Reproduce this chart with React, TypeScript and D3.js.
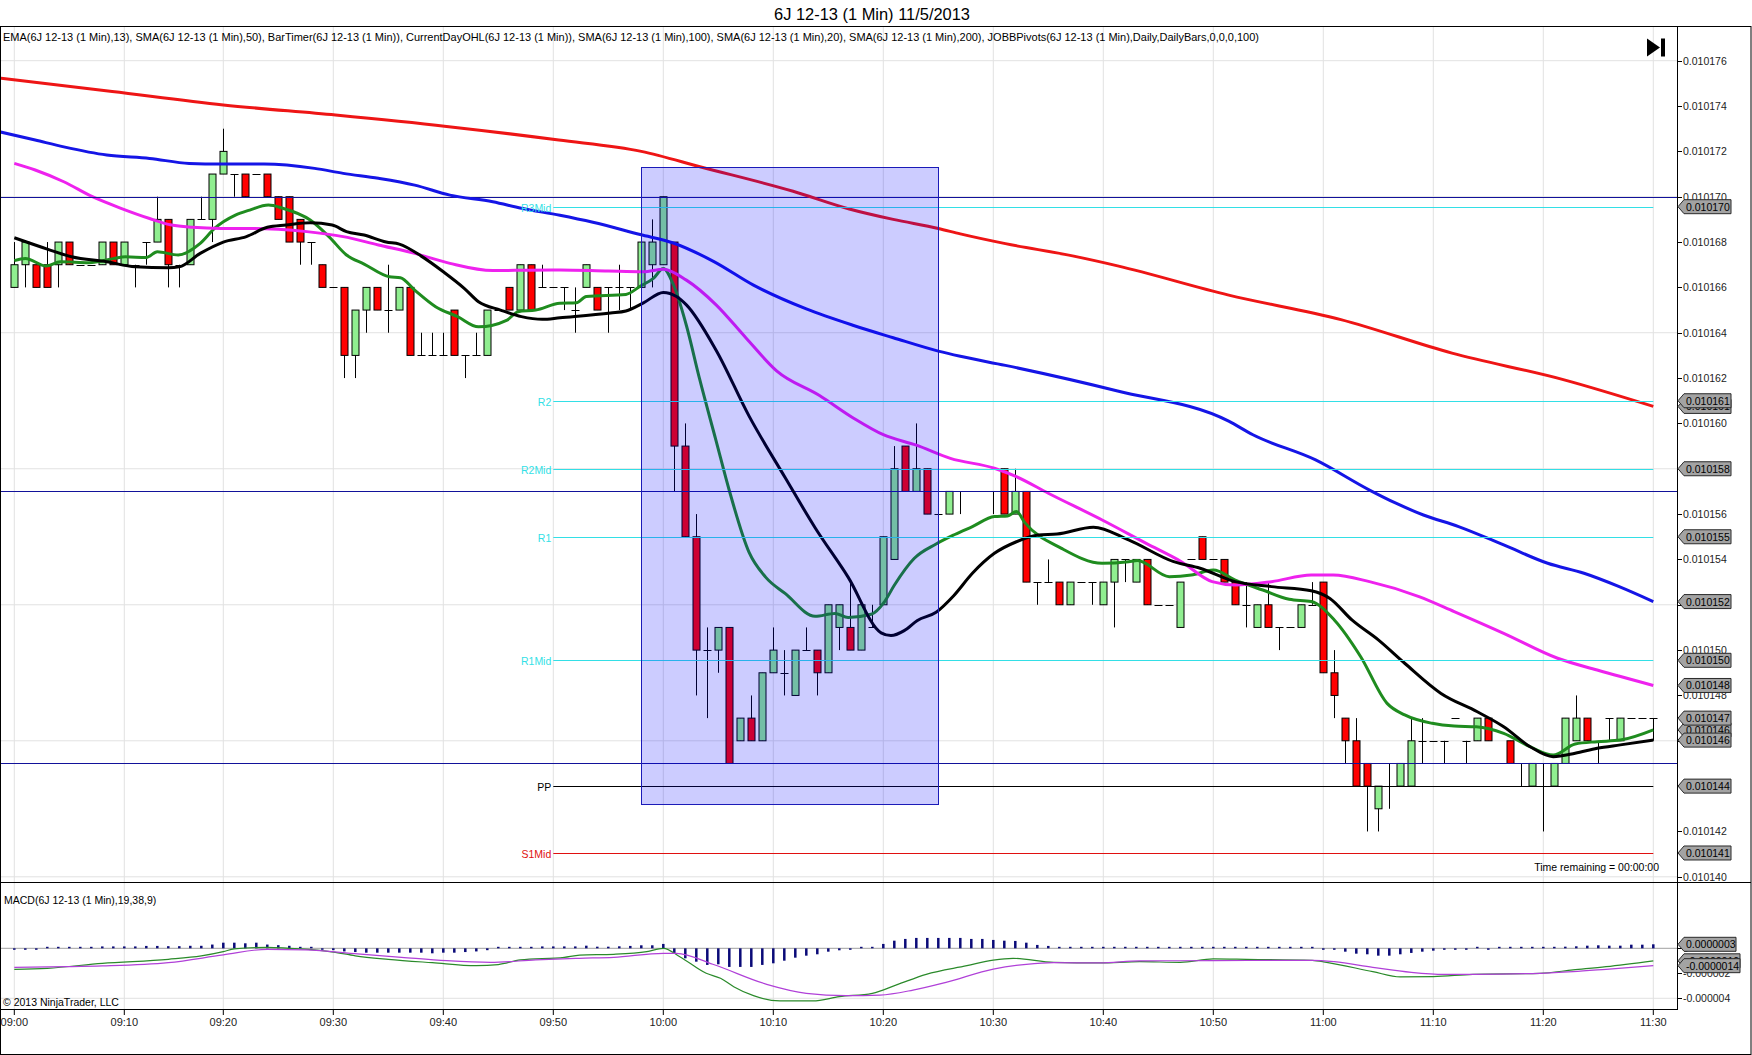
import React from 'react';
import * as d3 from 'd3';

// ---------- DATA (price values in ticks of 0.000001 above 0.0101) ----------
const BASE = 0.0101;
const TICK = 0.000001;

const OPEN = [
  66,67,67,67,67,68,67,67,67,68, 67,67,68,68,69,67,67,69,69,71,
  71,71,71,71,70,70,69,68,67,66, 66,63,65,66,65,65,66,63,63,63,
  65,63,63,63,65,66,65,67,66,66, 66,65,66,66,66,66,66,66,67,67,
  68,59,55,50,50,51,46,47,46,49, 49,48,50,50,49,51,51,50,51,52,
  54,59,57,58,56,56,57,57,57,57, 58,56,57,53,53,53,52,53,53,52,
  53,54,53,54,52,52,51,54,55,54, 54,53,52,51,52,51,51,51,52,53,
  49,47,46,45,43,44,44,44,46,46, 46,47,46,46,47,45,46,45,44,45,
  44,45,46,47,46,47,46,47,47,47,
];
const HIGH = [
  68,68,67,68,68,68,67,67,68,68, 68,67,68,70,69,67,69,70,71,73,
  71,71,71,71,70,70,69,68,67,66, 66,65,66,66,67,66,66,64,64,64,
  65,63,64,65,65,66,67,67,67,66, 66,66,67,66,66,67,66,68,69,70,
  68,60,56,51,51,51,47,48,49,51, 50,50,51,50,52,52,53,52,52,55,
  59,59,60,58,56,57,57,57,57,57, 58,58,57,53,54,53,53,53,53,53,
  54,54,54,54,52,52,53,54,55,54, 54,53,53,52,53,51,51,52,53,53,
  50,47,47,45,44,45,45,47,47,46, 46,47,46,47,47,45,46,45,45,45,
  45,47,48,47,46,47,47,47,47,47,
];
const LOW = [
  66,66,66,66,66,67,67,67,67,67, 67,66,67,68,66,66,67,69,68,71,
  70,70,71,70,69,68,67,67,66,66, 62,62,64,65,64,65,63,63,63,63,
  63,62,63,63,65,65,65,65,66,66, 65,64,66,65,64,65,65,66,66,67,
  57,55,48,47,49,45,46,46,46,49, 48,48,50,48,49,50,50,50,51,52,
  54,57,57,56,56,56,56,57,57,56, 56,56,53,52,53,52,52,53,52,52,
  51,53,53,52,52,52,51,54,54,54, 53,52,51,51,51,50,51,51,52,49,
  47,45,44,42,42,43,44,44,45,46, 45,47,45,46,46,45,45,44,44,42,
  44,45,46,46,45,46,46,47,47,46,
];
const CLOSE = [
  67,68,66,66,68,67,67,67,68,67, 68,67,68,69,67,67,69,69,71,72,
  71,70,71,70,69,68,68,68,66,66, 63,65,66,65,65,66,63,63,63,63,
  63,63,63,65,65,65,67,65,66,66, 66,65,67,65,66,66,66,68,68,70,
  59,55,50,50,51,45,47,46,49,50, 49,50,50,49,52,52,50,52,51,55,
  58,57,58,56,56,57,57,57,57,57, 56,57,53,53,53,52,53,53,53,53,
  54,54,54,52,52,52,53,54,54,54, 53,52,52,52,51,51,51,52,52,49,
  48,46,44,44,44,44,45,46,46,46, 46,47,46,47,46,45,45,45,45,45,
  45,47,47,46,46,47,47,47,47,47,
];

// moving averages: [bar index, ticks]
const EMA13: [number, number][] = [
  [0,67.18],[1,67.28],[2.9,66.94],[4.2,67.13],[6.8,67.09],[9.1,67.28],[10.1,67.35],[12,67.32],[13,67.57],
  [14.9,67.43],[16.9,67.94],[18.2,68.6],[20.1,69.19],[21.4,69.41],[23.1,69.63],[24.4,69.49],[26.9,68.97],
  [28.6,68.24],[30.2,67.43],[31.8,67.03],[34.1,66.47],[35.1,66.43],[36.4,65.88],[38.3,65.15],[40.3,64.71],
  [42.2,64.26],[44.8,64.56],[45.8,64.93],[47.4,65.0],[49.6,65.3],[51.1,65.32],[52,65.6],[55.6,65.69],
  [56.9,66.05],[58.1,66.4],[59,66.83],[59.9,66.14],[61.1,64.32],[62.3,61.96],[63.8,59.23],[65,57.04],
  [66.8,54.31],[68.3,53.22],[70.1,52.49],[72.8,51.49],[74.6,51.62],[75.8,51.44],[77.9,51.58],[79.1,52.13],
  [80,52.86],[81.8,54.04],[83.8,54.68],[85.5,55.1],[87.1,55.45],[89.1,55.89],[90.3,55.92],[91.1,56.11],
  [91.9,55.6],[95.2,54.49],[98.9,53.83],[101.3,53.9],[102.1,53.95],[105,53.24],[107,53.31],[109,53.53],
  [111,53.09],[113.5,52.65],[115.9,52.24],[117.9,52.14],[120,51.33],[122.4,49.71],[124.8,47.65],
  [126.4,47.14],[128.9,46.77],[130.9,46.65],[132.9,46.62],[135.4,46.33],[137.8,45.74],[139.9,45.37],
  [141.9,45.86],[143.9,45.96],[146,46.03],[149,46.48],
];
const SMA50: [number, number][] = [
  [0,71.47],[1.9,71.18],[4.5,70.66],[7.1,70.0],[9.7,69.49],[12.3,69.04],[14.3,68.75],[16.2,68.65],
  [18.8,68.6],[21.4,68.6],[24,68.56],[26.6,68.46],[29.9,68.24],[33.1,67.87],[36.4,67.5],[39.6,67.06],
  [43.5,66.74],[46.8,66.76],[49.6,66.77],[54,66.72],[57.2,66.69],[59,66.8],[61.1,66.32],[63.8,65.23],
  [66.5,63.78],[69.3,62.32],[73.2,61.23],[76.3,60.23],[79,59.5],[82,59.04],[85.1,58.46],[89.1,58.02],
  [91.1,57.65],[94,56.92],[98.9,55.74],[102.9,54.71],[106.1,53.9],[108.9,53.02],[111,52.87],[114.3,53.02],
  [117.9,53.31],[119.9,53.31],[123.2,53.02],[127.7,52.36],[130.9,51.7],[135.4,50.74],[140.3,49.64],
  [143.9,49.12],[149,48.44],
];
const SMA100: [number, number][] = [
  [-1.3,72.86],[1.9,72.5],[4.5,72.2],[8.4,71.84],[12.3,71.69],[15.9,71.47],[18.8,71.44],[22.7,71.44],
  [27.3,71.25],[29.9,71.03],[33.1,70.81],[36.4,70.51],[39.6,70.07],[43.5,69.78],[46.1,69.49],[49.6,69.18],
  [52.6,68.87],[56.9,68.33],[59.9,67.96],[63.6,67.14],[67.2,66.1],[72,65.05],[76.3,64.32],[79.9,63.78],
  [84,63.19],[86,62.96],[90.1,62.56],[100.3,61.43],[110.4,60.1],[112.6,59.5],[118.3,58.39],[123.2,57.06],
  [125.6,56.48],[128.1,55.96],[131.3,55.45],[135.4,54.64],[139.4,53.83],[142.7,53.39],[145.9,52.8],[149,52.14],
];
const SMA20: [number, number][] = [
  [0,68.19],[3,67.69],[5.2,67.35],[8.4,67.13],[11,66.91],[14,66.87],[15,66.91],[16.9,67.5],[19,68.0],
  [21.1,68.24],[23,68.65],[24.7,68.75],[26.9,68.85],[28.9,68.75],[30.2,68.46],[31.8,68.31],[33.8,68.0],
  [35,67.91],[37,67.38],[39,66.69],[40.9,65.96],[42.2,65.37],[44.2,65.0],[46.1,64.71],[48,64.59],
  [49.6,64.66],[54.2,64.87],[55.6,64.96],[57.2,65.32],[59,65.78],[60.2,65.6],[61.1,65.23],[63.8,63.23],
  [66.8,60.32],[70.1,57.59],[72.8,55.4],[75.8,53.22],[78.8,50.76],[79.7,50.64],[80.9,50.86],[82.1,51.31],
  [83.8,51.67],[85.4,52.4],[87.1,53.39],[89.1,54.27],[91.1,54.78],[93.1,55.08],[94.8,55.12],[98.1,55.42],
  [101.3,54.86],[105.4,53.9],[107.8,53.61],[111,53.02],[114.3,52.8],[117.9,52.62],[119.6,52.28],
  [121.6,51.33],[124,50.45],[126.4,49.42],[129.7,48.09],[133,47.28],[135.4,46.62],[137.8,45.74],
  [139.9,45.3],[141.9,45.45],[143.9,45.67],[146,45.82],[149,46.03],
];
const SMA200: [number, number][] = [
  [-1.3,75.23],[8.9,74.64],[19,74.05],[29.2,73.6],[39.3,73.1],[49.5,72.5],[57,72.0],
  [62.5,71.3],[70.8,70.24],[75.9,69.46],[79.9,69.0],[84,68.6],[86,68.36],[90.1,67.93],[96.2,67.39],
  [100.3,66.95],[110.4,65.66],[120.6,64.58],[130.7,63.1],[140.9,61.92],[149,60.75],
];

// current day OHL lines (ticks)
const DAY_OHL = [70, 57, 45];
// JOBB pivots
const PIVOT_NAMES = ['R3Mid', 'R2', 'R2Mid', 'R1', 'R1Mid', 'PP', 'S1Mid'];
const PIVOT_VALUES = [69.56, 61.0, 58.0, 55.0, 49.55, 44.0, 41.05];
const PIVOT_START_BAR = 49;

// drawn rectangle (bars, ticks)
const RECT_BARS = [57, 84];
const RECT_PRICES = [71.3, 43.2];

// MACD (units of 0.000001)
const MACD_HIST = [
  -0.08,-0.03,-0.03,0,0,0.05,0.05,0.08,0.15,0.15, 0.15,0.15,0.19,0.19,0.17,0.17,0.2,0.2,0.3,0.45,
  0.45,0.4,0.45,0.3,0.25,0.2,0.1,0,-0.08,-0.15, -0.25,-0.3,-0.35,-0.35,-0.35,-0.35,-0.35,-0.35,-0.4,-0.35,
  -0.35,-0.3,-0.25,-0.15,0,0.03,0.08,0.1,0.15,0.15, 0.15,0.15,0.21,0.13,0.13,0.16,0.19,0.24,0.24,0.35,
  -0.4,-0.8,-1.07,-1.33,-1.28,-1.49,-1.49,-1.49,-1.33,-1.2, -0.99,-0.75,-0.59,-0.48,-0.27,-0.16,-0.05,0.03,0.05,0.35,
  0.61,0.75,0.83,0.83,0.83,0.83,0.83,0.75,0.75,0.67, 0.61,0.59,0.45,0.27,0.19,0.02,0,0,0,0,
  0,0,0,0,0,0.05,0,0,0.08,0.05, 0.08,0,0,0,0.03,0.03,0.03,0.03,0.03,-0.03,
  -0.1,-0.27,-0.43,-0.48,-0.59,-0.59,-0.48,-0.37,-0.27,-0.19, -0.1,-0.08,-0.05,0,-0.03,0,0,0,0,0,
  0,0.13,0.16,0.21,0.24,0.21,0.21,0.29,0.29,0.32,
];
const MACD_LINE: [number, number][] = [
  [0,-1.68],[3,-1.6],[8,-1.2],[14,-0.88],[17,-0.61],[19,-0.27],[20,-0.05],[23,0.08],[25,0.0],[27,-0.1],
  [29,-0.3],[31,-0.6],[34,-0.88],[38,-1.15],[42,-1.39],[44,-1.3],[46,-0.93],[50,-0.72],[51.4,-0.54],
  [54.5,-0.48],[57.5,-0.27],[59,0],[60.5,-0.67],[62.9,-2.0],[64.2,-2.4],[65.4,-3.07],[67.2,-3.79],
  [69.6,-4.21],[72.6,-4.21],[75,-3.87],[78,-3.6],[80.2,-2.93],[82.9,-2.08],[86.6,-1.39],[89,-0.94],
  [90.8,-0.8],[94.5,-1.12],[98.7,-1.17],[102.3,-1.07],[106,-1.12],[109,-0.85],[112,-0.88],[118,-0.96],
  [119.3,-1.12],[123.5,-1.87],[126,-2.29],[129,-2.27],[132.6,-2.08],[138.7,-2.0],[141.7,-1.73],
  [144.7,-1.47],[149,-1.0],
];
const MACD_AVG: [number, number][] = [
  [0,-1.52],[4.7,-1.47],[8,-1.41],[14,-1.15],[19,-0.53],[23,-0.08],[26.5,-0.13],[31.2,-0.45],[35.2,-0.72],
  [39.3,-0.99],[43.3,-1.12],[47.4,-0.93],[51.4,-0.8],[54.5,-0.72],[59,-0.4],[60.2,-0.4],[63.5,-1.28],
  [68.4,-2.88],[72,-3.6],[75.6,-3.79],[78.7,-3.74],[81.7,-3.34],[84.7,-2.72],[89,-1.66],[92,-1.28],
  [94.5,-1.15],[98.7,-1.17],[102.3,-1.01],[109,-0.99],[118,-0.96],[120,-1.07],[123.5,-1.52],[127,-1.92],
  [130,-2.08],[132.6,-2.08],[138.7,-2.0],[141.7,-1.87],[144.7,-1.68],[149,-1.39],
];

// axes
const TIME_LABELS = ['09:00','09:10','09:20','09:30','09:40','09:50','10:00','10:10','10:20','10:30','10:40','10:50','11:00','11:10','11:20','11:30'];
const TIME_BARS = [0,10,19,29,39,49,59,69,79,89,99,109,119,129,139,149];
const PRICE_TICKS = [40,42,44,46,48,50,52,54,56,58,60,62,64,66,68,70,72,74,76];
const PRICE_GRID = [40,46,52,58,64,70,76];
const MACD_TICKS = [0, -2, -4];

const TITLE = '6J 12-13 (1 Min)  11/5/2013';
const LEGEND = 'EMA(6J 12-13 (1 Min),13), SMA(6J 12-13 (1 Min),50), BarTimer(6J 12-13 (1 Min)), CurrentDayOHL(6J 12-13 (1 Min)), SMA(6J 12-13 (1 Min),100), SMA(6J 12-13 (1 Min),20), SMA(6J 12-13 (1 Min),200), JOBBPivots(6J 12-13 (1 Min),Daily,DailyBars,0,0,0,100)';
const MACD_LABEL = 'MACD(6J 12-13 (1 Min),19,38,9)';

// ---------- LAYOUT ----------
const W = 1752, H = 1055;
const PLOT_L = 1, PLOT_R = 1677;
const TOP = 27, SEP = 882, XAXIS = 1009;
const FONT = "'Liberation Sans', Arial, sans-serif";

const x = d3.scaleLinear().domain([0, 149]).range([14.3, 1653.3]);
const yP = d3.scaleLinear().domain([40, 76]).range([876.8, 60.7]);
const yM = d3.scaleLinear().domain([-4, 0]).range([998.3, 948.3]);

const fmtP = (t: number) => (BASE + t * TICK).toFixed(6);
const fmtM = (v: number) => (v * 1e-6).toFixed(7);

const C = {
  ema13: '#1f8c1f', sma50: '#ee22ee', sma100: '#1515e6', sma20: '#000000', sma200: '#ee1515',
  ohl: '#12129a', pivot: '#33dfe6', pp: '#000000', s1: '#e01010', grid: '#e2e2e2',
  up: '#90ee90', down: '#ff0000', hist: '#0a0a78', macd: '#2a8a2a', avg: '#b040d8',
};

function Marker({ y, text, w = 47 }: { y: number; text: string; w?: number }) {
  const x0 = PLOT_R + 1;
  const pts = `${x0},${y} ${x0 + 6},${y - 7} ${x0 + 6 + w},${y - 7} ${x0 + 6 + w},${y + 7} ${x0 + 6},${y + 7}`;
  return (
    <g>
      <polygon points={pts} fill="#a3a3a3" stroke="#2a2a2a" strokeWidth={1} />
      <text x={x0 + 8} y={y + 4} fontSize={10.5} fill="#000">{text}</text>
    </g>
  );
}

export default function App() {
  const line = d3.line<[number, number]>().x(d => x(d[0])).y(d => yP(d[1])).curve(d3.curveMonotoneX);
  const lineM = d3.line<[number, number]>().x(d => x(d[0])).y(d => yM(d[1])).curve(d3.curveMonotoneX);
  const bw = 7;
  const last = (a: [number, number][]) => a[a.length - 1][1];

  const pivotColor = (n: string) => (n === 'PP' ? C.pp : n === 'S1Mid' ? C.s1 : C.pivot);

  return (
    <div style={{ position: 'absolute', left: 0, top: 0, width: W, height: H, background: '#fff' }}>
      <svg width={W} height={H} style={{ display: 'block', fontFamily: FONT }}>
        <defs>
          <clipPath id="cpPrice"><rect x={PLOT_L} y={TOP} width={PLOT_R - PLOT_L} height={SEP - TOP} /></clipPath>
          <clipPath id="cpMacd"><rect x={PLOT_L} y={SEP} width={PLOT_R - PLOT_L} height={XAXIS - SEP} /></clipPath>
        </defs>
        <rect x={0} y={0} width={W} height={H} fill="#fff" />

        {/* title */}
        <text x={872} y={20} fontSize={16} textAnchor="middle" textLength={196} lengthAdjust="spacingAndGlyphs" fill="#000">{TITLE}</text>

        {/* gridlines */}
        {TIME_BARS.map((b, k) => (
          <line key={'vg' + k} x1={x(b)} x2={x(b)} y1={TOP} y2={XAXIS} stroke={C.grid} strokeWidth={1} />
        ))}
        {PRICE_GRID.map(t => (
          <line key={'hg' + t} x1={PLOT_L} x2={PLOT_R} y1={yP(t)} y2={yP(t)} stroke={C.grid} strokeWidth={1} />
        ))}
        <line x1={PLOT_L} x2={PLOT_R} y1={yM(-4)} y2={yM(-4)} stroke={C.grid} strokeWidth={1} />

        {/* price panel */}
        <g clipPath="url(#cpPrice)">
          {OPEN.map((o, i) => {
            const c = CLOSE[i], h = HIGH[i], l = LOW[i];
            const cx = Math.round(x(i)) + 0.5;
            const top = yP(Math.max(o, c)), bot = yP(Math.min(o, c));
            return (
              <g key={'c' + i}>
                <line x1={cx} x2={cx} y1={yP(h)} y2={yP(l)} stroke="#000" strokeWidth={1} />
                {o === c ? (
                  <line x1={cx - bw / 2 - 0.5} x2={cx + bw / 2 + 0.5} y1={Math.round(top) + 0.5} y2={Math.round(top) + 0.5} stroke="#000" strokeWidth={1} />
                ) : (
                  <rect x={cx - bw / 2} y={top} width={bw} height={bot - top} fill={c > o ? C.up : C.down} stroke="#000" strokeWidth={1} />
                )}
              </g>
            );
          })}

          <path d={line(EMA13) || ''} fill="none" stroke={C.ema13} strokeWidth={3} />
          <path d={line(SMA50) || ''} fill="none" stroke={C.sma50} strokeWidth={3} />
          {DAY_OHL.map((t, k) => (
            <line key={'ohl' + k} x1={PLOT_L} x2={PLOT_R} y1={Math.round(yP(t)) + 0.5} y2={Math.round(yP(t)) + 0.5} stroke={C.ohl} strokeWidth={1} />
          ))}
          <path d={line(SMA100) || ''} fill="none" stroke={C.sma100} strokeWidth={3} />
          <path d={line(SMA20) || ''} fill="none" stroke={C.sma20} strokeWidth={3} />
          <path d={line(SMA200) || ''} fill="none" stroke={C.sma200} strokeWidth={3} />

          {PIVOT_NAMES.map((n, k) => {
            const yy = Math.round(yP(PIVOT_VALUES[k])) + 0.5;
            return (
              <g key={'pv' + n}>
                <line x1={x(PIVOT_START_BAR)} x2={x(149)} y1={yy} y2={yy} stroke={pivotColor(n)} strokeWidth={1} />
                <text x={x(PIVOT_START_BAR) - 2} y={yy + 4} fontSize={10.5} textAnchor="end" fill={pivotColor(n)}>{n}</text>
              </g>
            );
          })}

          {/* drawn rectangle */}
          <rect x={Math.round(x(RECT_BARS[0])) + 0.5} y={Math.round(yP(RECT_PRICES[0])) + 0.5}
            width={x(RECT_BARS[1]) - x(RECT_BARS[0])} height={yP(RECT_PRICES[1]) - yP(RECT_PRICES[0])}
            fill="#0000ff" fillOpacity={0.2} stroke="#1a1ab8" strokeWidth={1} />

          <text x={1659} y={871} fontSize={10.5} textAnchor="end" fill="#000">Time remaining = 00:00:00</text>
        </g>

        {/* play-to-end icon */}
        <polygon points="1647,38.5 1660,47.5 1647,56.5" fill="#000" />
        <rect x={1661} y={38.5} width={4} height={18} fill="#000" />

        {/* legend */}
        <text x={3} y={41} fontSize={10.5} fill="#000" textLength={1256} lengthAdjust="spacingAndGlyphs">{LEGEND}</text>

        {/* MACD panel */}
        <line x1={PLOT_L} x2={PLOT_R} y1={yM(0)} y2={yM(0)} stroke="#a0a0a0" strokeWidth={1} />
        <g clipPath="url(#cpMacd)">
          {MACD_HIST.map((v, i) => {
            const y0 = yM(0);
            const hgt = Math.max(1.5, Math.abs(yM(v) - y0));
            return <rect key={'h' + i} x={x(i) - 1.25} y={v >= 0 ? y0 - hgt : y0} width={2.5} height={hgt} fill={C.hist} />;
          })}
          <path d={lineM(MACD_LINE) || ''} fill="none" stroke={C.macd} strokeWidth={1.2} />
          <path d={lineM(MACD_AVG) || ''} fill="none" stroke={C.avg} strokeWidth={1.2} />
        </g>
        <text x={4} y={904} fontSize={10.5} fill="#000">{MACD_LABEL}</text>
        <text x={3} y={1006} fontSize={10.5} fill="#000">© 2013 NinjaTrader, LLC</text>

        {/* frame */}
        <rect x={0.5} y={TOP - 0.5} width={W - 1.5} height={H - TOP} fill="none" stroke="#000" strokeWidth={1} />
        <line x1={0} x2={W - 1} y1={SEP + 0.5} y2={SEP + 0.5} stroke="#000" strokeWidth={1} />
        <line x1={0} x2={PLOT_R} y1={XAXIS + 0.5} y2={XAXIS + 0.5} stroke="#000" strokeWidth={1} />
        <line x1={PLOT_R + 0.5} x2={PLOT_R + 0.5} y1={TOP} y2={XAXIS + 1} stroke="#000" strokeWidth={1} />

        {/* x axis */}
        {TIME_BARS.map((b, k) => (
          <g key={'xt' + k}>
            <line x1={x(b)} x2={x(b)} y1={XAXIS} y2={XAXIS + 6} stroke="#000" strokeWidth={1} />
            <text x={x(b)} y={1026} fontSize={11} textAnchor="middle" fill="#222">{TIME_LABELS[k]}</text>
          </g>
        ))}

        {/* price axis ticks */}
        {PRICE_TICKS.map(t => (
          <g key={'pt' + t}>
            <line x1={PLOT_R} x2={PLOT_R + 5} y1={Math.round(yP(t)) + 0.5} y2={Math.round(yP(t)) + 0.5} stroke="#000" strokeWidth={1} />
            <text x={PLOT_R + 6} y={yP(t) + 4} fontSize={10.5} fill="#222">{fmtP(t)}</text>
          </g>
        ))}
        {MACD_TICKS.map(v => (
          <g key={'mt' + v}>
            <line x1={PLOT_R} x2={PLOT_R + 5} y1={Math.round(yM(v)) + 0.5} y2={Math.round(yM(v)) + 0.5} stroke="#000" strokeWidth={1} />
            <text x={PLOT_R + 6} y={yM(v) + 4} fontSize={10.5} fill="#222">{v === 0 ? '0' : (v * 1e-6).toFixed(6)}</text>
          </g>
        ))}

        {/* price markers */}
        <Marker y={yP(last(EMA13))} text={fmtP(last(EMA13))} />
        <Marker y={yP(last(SMA50))} text={fmtP(last(SMA50))} />
        <Marker y={yP(last(SMA100))} text={fmtP(last(SMA100))} />
        <Marker y={yP(last(SMA20))} text={fmtP(last(SMA20))} />
        <Marker y={yP(last(SMA200))} text={fmtP(last(SMA200))} />
        {PIVOT_VALUES.map((v, k) => <Marker key={'pm' + k} y={yP(v)} text={fmtP(v)} />)}
        <Marker y={yP(CLOSE[CLOSE.length - 1])} text={fmtP(CLOSE[CLOSE.length - 1])} />

        {/* MACD markers */}
        <Marker y={yM(last(MACD_LINE))} text={fmtM(last(MACD_LINE))} w={56} />
        <Marker y={yM(MACD_HIST[MACD_HIST.length - 1])} text={fmtM(MACD_HIST[MACD_HIST.length - 1])} w={52} />
        <Marker y={yM(last(MACD_AVG))} text={fmtM(last(MACD_AVG))} w={56} />
      </svg>
    </div>
  );
}
